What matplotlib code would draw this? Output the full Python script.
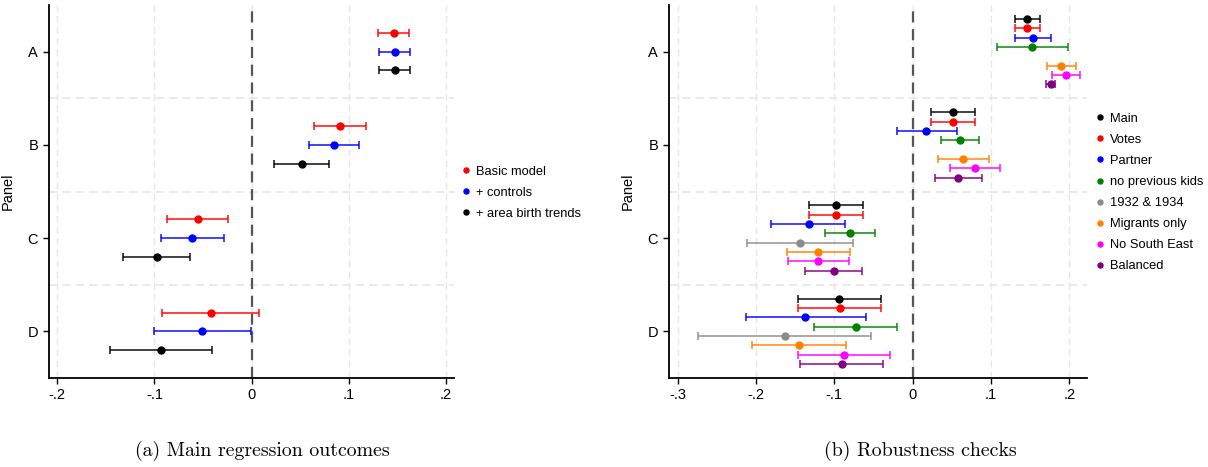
import numpy as np
import matplotlib
matplotlib.use("Agg")
import matplotlib.pyplot as plt
from matplotlib.lines import Line2D

# ---------------- data ----------------
panels = ["A", "B", "C", "D"]

# (a) Main regression outcomes
left_names = ["Basic model", "+ controls", "+ area birth trends"]
left_colors = ["#ff0000", "#0000ff", "#000000"]
left_coef = [
    [0.146, 0.091, -0.055, -0.042],
    [0.147, 0.085, -0.061, -0.051],
    [0.147, 0.052, -0.097, -0.093],
]
left_lo = [
    [0.130, 0.064, -0.087, -0.092],
    [0.131, 0.059, -0.093, -0.101],
    [0.131, 0.023, -0.132, -0.146],
]
left_hi = [
    [0.162, 0.118, -0.024, 0.008],
    [0.163, 0.110, -0.029, -0.001],
    [0.163, 0.080, -0.063, -0.041],
]

# (b) Robustness checks
right_names = ["Main", "Votes", "Partner", "no previous kids", "1932 & 1934",
               "Migrants only", "No South East", "Balanced"]
right_colors = ["#000000", "#ff0000", "#0000ff", "#008000", "#8c8c8c",
                "#ff8000", "#ff00ff", "#800080"]
right_coef = [
    [0.146, 0.051, -0.098, -0.094],
    [0.146, 0.051, -0.098, -0.093],
    [0.153, 0.017, -0.133, -0.137],
    [0.152, 0.060, -0.080, -0.073],
    [np.nan, np.nan, -0.144, -0.163],
    [0.189, 0.064, -0.121, -0.145],
    [0.196, 0.080, -0.121, -0.088],
    [0.176, 0.058, -0.101, -0.090],
]
right_lo = [
    [0.131, 0.023, -0.132, -0.146],
    [0.131, 0.023, -0.132, -0.146],
    [0.131, -0.020, -0.181, -0.213],
    [0.107, 0.036, -0.112, -0.126],
    [np.nan, np.nan, -0.211, -0.274],
    [0.171, 0.032, -0.161, -0.205],
    [0.178, 0.048, -0.159, -0.147],
    [0.170, 0.029, -0.137, -0.144],
]
right_hi = [
    [0.163, 0.080, -0.063, -0.041],
    [0.163, 0.080, -0.063, -0.041],
    [0.176, 0.056, -0.086, -0.059],
    [0.198, 0.085, -0.048, -0.020],
    [np.nan, np.nan, -0.076, -0.053],
    [0.209, 0.097, -0.080, -0.085],
    [0.213, 0.112, -0.081, -0.029],
    [0.182, 0.089, -0.065, -0.038],
]

xticks_left = [-0.2, -0.1, 0, 0.1, 0.2]
xtick_labels_left = ["-.2", "-.1", "0", ".1", ".2"]
xticks_right = [-0.3, -0.2, -0.1, 0, 0.1, 0.2]
xtick_labels_right = ["-.3", "-.2", "-.1", "0", ".1", ".2"]

# ---------------- style ----------------
plt.rcParams["font.family"] = ["Liberation Sans", "DejaVu Sans"]
W, H = 1208, 467
fig = plt.figure(figsize=(W / 100, H / 100), dpi=100)
FS = 10.5
LFS = 9.3


def px_axes(l, r, t, b):
    return fig.add_axes([l / W, 1 - b / H, (r - l) / W, (b - t) / H])


def draw(ax, names, colors, coef, lo, hi, offsets, xlim, xticks, xlabels, ylab_x):
    ypos = np.arange(1, len(panels) + 1)
    # grid
    for xt in xticks:
        ax.axvline(xt, color="#e6e6e6", lw=1.0, ls=(0, (5, 3)), zorder=0)
    for yb in ypos[:-1] + 0.5:
        ax.axhline(yb, color="#e6e6e6", lw=1.2, ls=(0, (5, 3)), zorder=0)
    ax.axvline(0, color="#555555", lw=1.6, ls=(0, (5, 3)), zorder=1)
    for i in range(len(names)):
        c = np.array(coef[i], dtype=float)
        l = np.array(lo[i], dtype=float)
        h = np.array(hi[i], dtype=float)
        y = ypos + offsets[i]
        ax.errorbar(c, y, xerr=[c - l, h - c], fmt="none", ecolor=colors[i],
                    elinewidth=1.3, capsize=2.6, capthick=1.3, alpha=0.8, zorder=2)
        ax.plot(c, y, "o", color=colors[i], ms=5, zorder=3)
    ax.set_xlim(*xlim)
    ax.set_ylim(4.5, 0.5)
    ax.set_yticks(ypos)
    ax.set_yticklabels(panels)
    ax.set_xticks(xticks)
    ax.set_xticklabels(xlabels)
    ax.tick_params(axis="both", direction="out", length=4, width=1.0,
                   labelsize=FS, colors="black", pad=3)
    ax.tick_params(axis="y", pad=4)
    for s in ["top", "right"]:
        ax.spines[s].set_visible(False)
    for s in ["left", "bottom"]:
        ax.spines[s].set_linewidth(1.3)
    ax.set_ylabel("Panel", fontsize=FS)
    ax.yaxis.set_label_coords(ylab_x, 0.5)
    handles = [Line2D([], [], ls="none", marker="o", ms=3.6, color=col, label=n)
               for n, col in zip(names, colors)]
    return handles


legend_kw = dict(loc="center left", frameon=False, fontsize=LFS,
                 handlelength=0.6, handletextpad=0.45, labelspacing=0.7,
                 borderaxespad=0, borderpad=0)

axL = px_axes(49.3, 454, 5, 378)
hL = draw(axL, left_names, left_colors, left_coef, left_lo, left_hi,
          [-0.2, 0.0, 0.2], (-0.2082, 0.2081), xticks_left, xtick_labels_left,
          -0.085)
axL.legend(handles=hL, bbox_to_anchor=(1.0198, 0.497), **legend_kw)

axR = px_axes(669.3, 1086.7, 5, 378)
offs = [-0.35 + 0.1 * k for k in range(len(right_names))]
hR = draw(axR, right_names, right_colors, right_coef, right_lo, right_hi,
          offs, (-0.3107, 0.2221), xticks_right, xtick_labels_right, -0.082)
axR.legend(handles=hR, bbox_to_anchor=(1.0223, 0.497), **legend_kw)

fig.text(262 / W, 1 - 451 / H, "(a) Main regression outcomes", ha="center",
         va="center", fontsize=14.3, family=["cmr10", "DejaVu Serif"])
fig.text(920 / W, 1 - 451 / H, "(b) Robustness checks", ha="center",
         va="center", fontsize=14.3, family=["cmr10", "DejaVu Serif"])

fig.savefig("out.png", dpi=100)
